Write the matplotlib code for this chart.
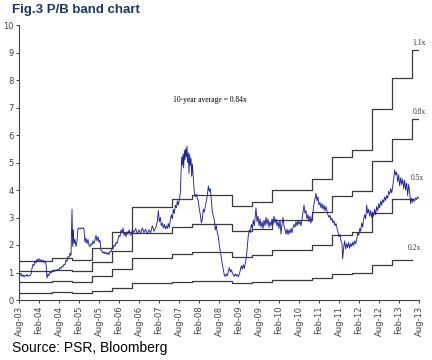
import matplotlib
matplotlib.use("Agg")
import matplotlib.pyplot as plt

# book value steps: months since Aug-03 where a new book value applies, and its value
bv_months = [0, 9.8, 15.8, 21.8, 27.8, 33.8, 39.8, 45.8, 51.8, 57.8, 63.8,
             69.8, 75.8, 81.8, 87.8, 93.8, 99.8, 105.8, 111.8, 117.8]
bvps = [1.30, 1.38, 1.32, 1.71, 2.24, 3.06, 3.06, 3.34, 3.47, 3.47, 3.12,
        3.25, 3.64, 3.64, 4.00, 4.72, 4.95, 6.30, 7.33, 8.25]
multiples = [0.2, 0.5, 0.8, 1.1]
band_labels = ["0.2x", "0.5x", "0.8x", "1.1x"]
label_pos = [(116.5, 1.88), (117.5, 4.43), (118.1, 6.85), (118.1, 9.33)]
end_month = 120

tick_labels = ["Aug-03", "Feb-04", "Aug-04", "Feb-05", "Aug-05", "Feb-06", "Aug-06",
               "Feb-07", "Aug-07", "Feb-08", "Aug-08", "Feb-09", "Aug-09", "Feb-10",
               "Aug-10", "Feb-11", "Aug-11", "Feb-12", "Aug-12", "Feb-13", "Aug-13"]

# share price (months since Aug-03, price)
price = [
    (0, 0.95), (0.3, 0.88), (0.6, 0.97), (0.9, 0.86), (1.2, 0.92), (1.5, 0.84),
    (1.8, 0.90), (2.1, 0.87), (2.4, 0.93), (2.7, 0.86), (3.0, 0.90), (3.3, 0.88),
    (3.6, 0.95), (3.9, 1.15), (4.2, 1.30), (4.5, 1.25), (4.8, 1.42), (5.1, 1.35),
    (5.4, 1.48), (5.7, 1.40), (6.0, 1.50), (6.3, 1.43), (6.6, 1.47), (6.9, 1.38),
    (7.2, 1.45), (7.5, 1.36), (7.8, 1.42), (8.1, 1.30), (8.4, 0.80), (8.7, 0.95),
    (9.0, 0.88), (9.3, 1.02), (9.6, 0.98), (9.9, 1.05), (10.2, 1.02), (10.5, 1.08),
    (10.8, 1.04), (11.1, 1.10), (11.4, 1.06), (11.7, 1.12), (12.0, 1.10), (12.3, 1.18),
    (12.6, 1.14), (12.9, 1.22), (13.2, 1.20), (13.5, 1.30), (13.8, 1.28), (14.1, 1.45),
    (14.4, 1.40), (14.7, 1.58), (15.0, 1.55), (15.3, 1.70), (15.6, 1.62), (15.9, 3.30),
    (16.1, 1.95), (16.3, 2.55), (16.5, 2.05), (16.8, 2.20), (17.1, 1.95), (17.4, 2.15),
    (17.7, 2.60), (18.0, 2.62), (18.3, 2.58), (18.6, 2.62), (18.9, 2.60), (19.2, 2.63),
    (19.5, 2.58), (19.8, 2.10), (20.1, 2.25), (20.4, 2.05), (20.7, 2.20), (21.0, 1.98),
    (21.3, 1.94), (21.6, 2.05), (21.9, 2.00), (22.2, 2.15), (22.5, 2.05), (22.8, 2.20),
    (23.1, 2.35), (23.4, 2.15), (23.7, 2.30), (24.0, 2.10), (24.3, 2.18), (24.6, 1.80),
    (24.9, 1.78), (25.2, 1.70), (25.5, 1.76), (25.8, 1.68), (26.1, 1.74), (26.4, 1.66),
    (26.7, 1.72), (27.0, 1.65), (27.3, 1.78), (27.6, 1.75), (27.9, 1.88), (28.2, 1.85),
    (28.5, 2.00), (28.8, 1.95), (29.1, 2.10), (29.4, 2.05), (29.7, 2.20), (30.0, 2.35),
    (30.3, 2.30), (30.6, 2.55), (30.9, 2.45), (31.2, 2.62), (31.5, 2.35), (31.8, 2.45),
    (32.1, 2.30), (32.4, 2.48), (32.7, 2.38), (33.0, 2.55), (33.3, 2.42), (33.6, 2.35),
    (34.0, 2.55), (34.5, 2.45), (35.0, 2.60), (35.5, 2.40), (36.0, 2.55), (36.5, 2.42),
    (37.0, 2.62), (37.5, 2.45), (38.0, 2.58), (38.5, 2.40), (39.0, 2.55), (39.5, 2.45),
    (40.0, 2.70), (40.5, 2.50), (41.0, 2.62), (41.5, 2.85), (41.8, 3.25), (42.1, 2.85),
    (42.4, 3.00), (42.7, 2.70), (43.0, 2.80), (43.3, 2.62), (43.6, 2.75), (43.9, 2.58),
    (44.2, 2.70), (44.5, 2.60), (44.8, 2.78), (45.1, 2.62), (45.4, 2.90), (45.7, 3.10),
    (46.0, 2.95), (46.3, 3.30), (46.6, 3.15), (46.9, 3.45), (47.2, 3.35), (47.5, 3.60),
    (47.8, 3.45), (48.1, 3.65), (48.4, 3.90), (48.6, 4.60), (48.8, 5.20), (49.0, 4.90),
    (49.2, 5.30), (49.4, 4.80), (49.6, 5.45), (49.8, 5.10), (50.0, 5.50), (50.2, 5.20),
    (50.4, 5.60), (50.6, 5.00), (50.8, 5.35), (51.0, 4.60), (51.2, 5.30), (51.4, 4.90),
    (51.6, 5.15), (51.8, 4.50), (52.0, 4.95), (52.2, 4.60), (52.4, 4.20), (52.6, 3.90),
    (52.9, 3.75), (53.2, 3.85), (53.5, 3.70), (53.8, 3.60), (54.1, 3.30), (54.4, 3.10),
    (54.7, 2.80), (55.0, 2.95), (55.3, 3.30), (55.6, 3.20), (55.9, 3.40), (56.2, 3.60),
    (56.5, 3.80), (56.8, 4.15), (57.1, 3.95), (57.4, 4.05), (57.7, 3.60), (58.0, 3.20),
    (58.3, 3.05), (58.6, 2.90), (58.9, 2.55), (59.2, 2.70), (59.5, 2.45), (59.8, 2.30),
    (60.1, 2.00), (60.4, 1.75), (60.7, 1.55), (61.0, 1.30), (61.3, 1.10), (61.6, 0.90),
    (61.9, 0.85), (62.2, 0.95), (62.5, 0.88), (62.8, 1.05), (63.1, 1.18), (63.4, 1.02),
    (63.7, 1.10), (64.0, 0.98), (64.3, 0.92), (64.6, 0.86), (64.9, 0.95), (65.2, 0.88),
    (65.5, 0.92), (65.8, 0.84), (66.1, 0.95), (66.4, 1.08), (66.7, 1.25), (67.0, 1.12),
    (67.3, 1.28), (67.6, 1.15), (67.9, 1.35), (68.2, 1.55), (68.5, 1.95), (68.8, 2.35),
    (69.1, 2.55), (69.4, 2.45), (69.7, 2.75), (70.0, 2.60), (70.3, 2.90), (70.6, 2.70),
    (70.9, 3.10), (71.1, 3.35), (71.4, 2.85), (71.7, 3.05), (72.0, 2.70), (72.3, 2.95),
    (72.6, 2.65), (72.9, 2.85), (73.2, 2.60), (73.5, 2.90), (73.8, 2.70), (74.1, 3.00),
    (74.4, 2.75), (74.7, 2.95), (75.0, 2.65), (75.3, 2.85), (75.6, 2.70), (75.9, 2.95),
    (76.2, 2.75), (76.5, 3.05), (76.8, 2.80), (77.1, 2.95), (77.4, 2.70), (77.7, 2.85),
    (78.0, 2.60), (78.3, 2.90), (78.6, 2.40), (78.9, 2.75), (79.2, 3.00), (79.5, 2.70),
    (79.8, 2.55), (80.1, 2.40), (80.4, 2.58), (80.7, 2.38), (81.0, 2.55), (81.3, 2.42),
    (81.6, 2.60), (81.9, 2.45), (82.2, 2.62), (82.5, 2.75), (82.8, 2.65), (83.1, 2.85),
    (83.4, 2.70), (83.7, 2.90), (84.0, 2.75), (84.3, 2.85), (84.6, 2.70), (84.9, 2.95),
    (85.2, 3.20), (85.5, 3.45), (85.8, 3.15), (86.1, 3.25), (86.4, 2.95), (86.7, 3.10),
    (87.0, 2.85), (87.3, 3.05), (87.6, 2.80), (87.9, 3.00), (88.2, 3.20), (88.5, 3.50),
    (88.8, 3.70), (89.1, 3.88), (89.4, 3.60), (89.7, 3.75), (90.0, 3.45), (90.3, 3.55),
    (90.6, 3.35), (90.9, 3.50), (91.2, 3.30), (91.5, 3.45), (91.8, 3.25), (92.1, 3.40),
    (92.4, 3.22), (92.7, 3.10), (93.0, 3.00), (93.3, 3.08), (93.6, 2.90), (93.9, 2.98),
    (94.2, 2.80), (94.5, 2.88), (94.8, 2.70), (95.1, 2.78), (95.4, 2.62), (95.7, 2.45),
    (96.0, 2.30), (96.3, 2.38), (96.6, 2.15), (96.9, 2.05), (97.1, 1.50), (97.4, 1.90),
    (97.7, 2.15), (98.0, 1.85), (98.3, 2.05), (98.6, 1.90), (98.9, 2.10), (99.2, 1.88),
    (99.5, 2.05), (99.8, 1.95), (100.1, 2.10), (100.4, 1.98), (100.7, 2.15), (101.0, 2.05),
    (101.3, 2.20), (101.6, 2.45), (101.9, 2.35), (102.2, 2.60), (102.5, 2.50), (102.8, 2.80),
    (103.1, 2.65), (103.4, 2.95), (103.7, 3.10), (104.0, 2.95), (104.3, 3.45), (104.6, 3.15),
    (104.9, 3.30), (105.2, 3.05), (105.5, 3.25), (105.8, 3.00), (106.1, 3.20), (106.4, 3.05),
    (106.7, 3.30), (107.0, 3.10), (107.3, 3.40), (107.6, 3.25), (107.9, 3.50), (108.2, 3.35),
    (108.5, 3.60), (108.8, 3.45), (109.1, 3.65), (109.4, 3.55), (109.7, 3.75), (110.0, 3.62),
    (110.3, 3.80), (110.6, 3.70), (110.9, 3.95), (111.2, 3.85), (111.5, 4.05), (111.8, 3.90),
    (112.1, 4.10), (112.4, 4.40), (112.7, 4.73), (113.0, 4.55), (113.3, 4.65), (113.6, 4.30),
    (113.9, 4.55), (114.2, 4.15), (114.5, 4.45), (114.8, 4.20), (115.1, 4.40), (115.4, 4.05),
    (115.7, 4.35), (116.0, 4.00), (116.3, 4.25), (116.6, 3.80), (116.9, 4.20), (117.2, 3.90),
    (117.5, 3.50), (117.8, 3.70), (118.1, 3.55), (118.4, 3.68), (118.7, 3.60), (119.0, 3.72),
    (119.3, 3.65), (119.6, 3.75), (119.9, 3.70),
]

fig = plt.figure(figsize=(4.32, 3.6), dpi=100)
ax = fig.add_axes([19 / 432, 60 / 360, 400 / 432, 275 / 360])

# P/B bands = multiple x book value; the two lower bands stop at the last step
for k, lab, pos in zip(multiples, band_labels, label_pos):
    if k >= 0.8:
        xs = bv_months + [end_month]
        ys = [k * b for b in bvps] + [k * bvps[-1]]
    else:
        xs = bv_months
        ys = [k * b for b in bvps[:-1]] + [k * bvps[-2]]
    ax.step(xs, ys, where="post", color="#3a3a3a", lw=0.9)
    ax.text(pos[0], pos[1], lab, fontsize=5.5, family="Liberation Serif",
            color="#333333", ha="left", va="center")

px = [p[0] for p in price]
pv = [p[1] for p in price]
ax.plot(px, pv, color="#22229a", lw=0.65)

ax.text(57.3, 7.27, "10-year average = 0.84x", fontsize=5.5,
        family="Liberation Serif", ha="center", va="center")

ax.set_xlim(0, end_month)
ax.set_ylim(0, 10)
ax.set_yticks(range(0, 11))
ax.set_xticks(range(0, 121, 6))
ax.set_xticklabels(tick_labels, rotation=90)
for s in ["top", "right"]:
    ax.spines[s].set_visible(False)
for s in ["left", "bottom"]:
    ax.spines[s].set_color("#404040")
    ax.spines[s].set_linewidth(0.8)
ax.tick_params(axis="both", labelsize=6, colors="#404040", length=2.5, width=0.7, pad=1.5)

fig.text(12 / 432, 1 - 10 / 360, "Fig.3 P/B band chart", fontsize=9.5, fontweight="bold",
         family="Liberation Sans", color="#1b3564", ha="left", va="center")
fig.text(12 / 432, 1 - 348 / 360, "Source: PSR, Bloomberg", fontsize=10,
         family="Liberation Sans", color="black", ha="left", va="center")

fig.savefig("out.png", dpi=100)
